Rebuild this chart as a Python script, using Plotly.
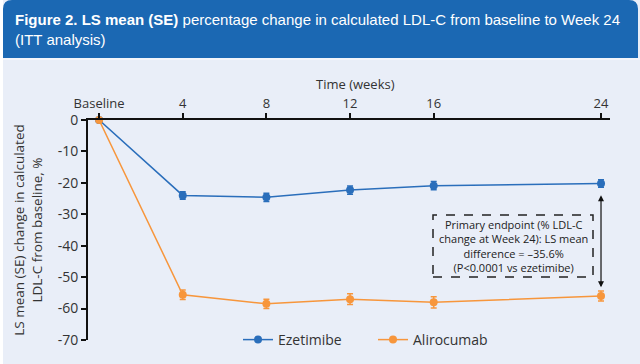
import plotly.graph_objects as go

weeks = [0, 4, 8, 12, 16, 24]
tick_labels = ["Baseline", "4", "8", "12", "16", "24"]
ezetimibe = [0, -24.0, -24.6, -22.3, -20.9, -20.2]
ezetimibe_se = [0, 1.2, 1.3, 1.3, 1.3, 1.2]
alirocumab = [0, -55.6, -58.5, -57.0, -58.0, -56.0]
alirocumab_se = [0, 1.5, 1.5, 1.7, 1.8, 1.6]
y_ticks = [0, -10, -20, -30, -40, -50, -60, -70]

BLUE = "#2a6ebb"
ORANGE = "#f7963c"
BG = "#e9eef8"
BANNER = "#1b68b3"
TXT = "#333333"

fig = go.Figure()
fig.add_trace(go.Scatter(
    x=weeks, y=ezetimibe, name="Ezetimibe", mode="lines+markers",
    line=dict(color=BLUE, width=1.5), marker=dict(color=BLUE, size=8),
    error_y=dict(type="data", array=ezetimibe_se, color=BLUE, thickness=1.5, width=3),
    cliponaxis=False))
fig.add_trace(go.Scatter(
    x=weeks, y=alirocumab, name="Alirocumab", mode="lines+markers",
    line=dict(color=ORANGE, width=1.5), marker=dict(color=ORANGE, size=8),
    error_y=dict(type="data", array=alirocumab_se, color=ORANGE, thickness=1.5, width=3),
    cliponaxis=False))

L, R, T, B = 88, 30, 120, 24
W, H = 640, 364
pw, ph = W - L - R, H - T - B

def px(xp):
    return (xp - L) / pw

def py(yp):
    return (H - B - yp) / ph

# background panel
fig.add_shape(type="rect", xref="paper", yref="paper",
              x0=px(3), x1=px(641), y0=py(365), y1=py(0),
              fillcolor=BG, line=dict(width=0), layer="below")
# banner with rounded top corners
x0, x1, yt, yb = 3, 638, 0, 58
r = 9
path = (f"M {px(x0)},{py(yb)} L {px(x0)},{py(yt + r)} "
        f"Q {px(x0)},{py(yt)} {px(x0 + r)},{py(yt)} "
        f"L {px(x1 - r)},{py(yt)} Q {px(x1)},{py(yt)} {px(x1)},{py(yt + r)} "
        f"L {px(x1)},{py(yb)} Z")
fig.add_shape(type="path", xref="paper", yref="paper", path=path,
              fillcolor=BANNER, line=dict(width=0), layer="below")
fig.add_shape(type="rect", xref="paper", yref="paper",
              x0=px(3), x1=px(641), y0=py(60), y1=py(58),
              fillcolor="#f2f5fb", line=dict(width=0), layer="below")

fig.add_annotation(xref="paper", yref="paper", x=px(13), y=py(9),
                   xanchor="left", yanchor="top", align="left", showarrow=False,
                   text="<b>Figure 2. LS mean (SE)</b> percentage change in calculated LDL-C from baseline to Week 24<br>(ITT analysis)",
                   font=dict(family="Liberation Sans", size=15, color="white"))

# x axis title (top)
fig.add_annotation(xref="paper", yref="paper", x=px(355), y=py(84),
                   xanchor="center", yanchor="middle", showarrow=False,
                   text="Time (weeks)", font=dict(family="Open Sans", size=13, color=TXT))

# dashed annotation box
fig.add_shape(type="rect", xref="paper", yref="paper",
              x0=px(433), x1=px(593), y0=py(277), y1=py(215),
              line=dict(color="#222222", width=1.5, dash="dash"), fillcolor="rgba(0,0,0,0)")
fig.add_annotation(xref="paper", yref="paper", x=px(513), y=py(246),
                   xanchor="center", yanchor="middle",
                   showarrow=False, align="center",
                   text="Primary endpoint (% LDL-C<br>change at Week 24): LS mean<br>difference = \u201335.6%<br>(P<0.0001 vs ezetimibe)",
                   font=dict(family="Open Sans", size=11, color="#222222"))

# double arrow
fig.add_annotation(x=24, y=-53.2, ax=24, ay=-23.5, xref="x", yref="y", axref="x", ayref="y",
                   showarrow=True, arrowhead=2, arrowside="end+start", arrowsize=1,
                   arrowwidth=1.2, arrowcolor="#111111", text="")

fig.update_layout(
    width=W, height=H, margin=dict(l=L, r=R, t=T, b=B, autoexpand=False),
    paper_bgcolor="white", plot_bgcolor=BG,
    font=dict(family="Open Sans", size=13, color=TXT),
    showlegend=True,
    legend=dict(orientation="h", x=px(238), y=py(340), xanchor="left", yanchor="middle",
                bgcolor="rgba(0,0,0,0)", font=dict(size=14, color=TXT),
                entrywidth=90, entrywidthmode="pixels"),
    xaxis=dict(range=[-0.53, 24.43], side="top", tickvals=weeks, ticktext=tick_labels,
               showline=True, linecolor="#111111", linewidth=2, ticks="outside",
               ticklen=5, tickwidth=1.5, tickcolor="#111111", showgrid=False, zeroline=False,
               automargin=False, tickfont=dict(size=13, color=TXT)),
    yaxis=dict(range=[-70, 0], tickvals=y_ticks, ticktext=[str(v) for v in y_ticks],
               showline=True, linecolor="#111111", linewidth=2, ticks="outside",
               ticklen=5, tickwidth=1.5, tickcolor="#111111", showgrid=False, zeroline=False,
               automargin=False,
               title=dict(text="LS mean (SE) change in calculated<br>LDL-C from baseline, %",
                          standoff=12, font=dict(size=13.5, color=TXT)),
               tickfont=dict(size=14, color=TXT)),
)

fig.write_html("out.html", config={"displayModeBar": False},
               post_script="document.body.style.margin='0';document.body.style.overflow='hidden';document.documentElement.style.overflow='hidden';")
